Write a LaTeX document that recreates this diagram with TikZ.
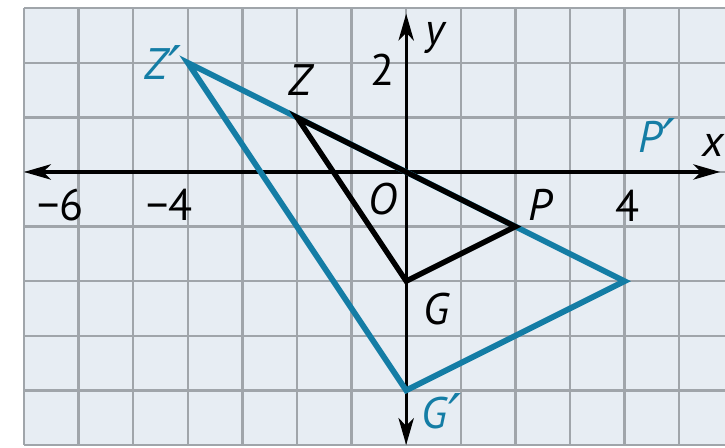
\documentclass[tikz,border=0pt]{standalone}
\usepackage{fontspec}
\setmainfont{PT Sans}
\newfontfamily\primefont{DejaVu Sans}
\usetikzlibrary{arrows.meta}
\definecolor{bgblue}{RGB}{231,237,243}
\definecolor{gridgray}{RGB}{160,165,170}
\definecolor{primeblue}{RGB}{20,125,165}
\newcommand{\prm}{\kern0.5pt\raisebox{-4pt}{\primefont\itshape\fontsize{30}{30}\selectfont ′}}
\tikzset{
  gridline/.style={draw=gridgray, line width=1.3pt},
  axisline/.style={draw=black, line width=1.6pt, {Stealth[length=14pt,width=8pt,inset=4pt]}-{Stealth[length=14pt,width=8pt,inset=4pt]}},
  imgtri/.style={draw=primeblue, line width=3pt, line join=miter},
  pretri/.style={draw=black, line width=2.8pt, line join=miter},
  lab/.style={font=\fontsize{23}{27}\selectfont\itshape, inner sep=0pt},
  num/.style={font=\fontsize{23}{27}\selectfont, inner sep=0pt},
}
\begin{document}
\begin{tikzpicture}
\useasboundingbox (-7.44,-5.04) rectangle (5.84,3.15);
\fill[bgblue] (-7,-5) rectangle (5.84,3);
\foreach \x in {-7,...,5} \draw[gridline] (\x,-5) -- (\x,3);
\foreach \y in {-5,...,3} \draw[gridline] (-7,\y) -- (5.84,\y);
% axes
\coordinate (xl) at (-7.0,0);
\coordinate (xr) at (5.75,0);
\coordinate (yt) at (0,2.9);
\coordinate (yb) at (0,-5.0);
\draw[axisline] (xl) -- (xr);
\draw[axisline] (yb) -- (yt);
% vertices
\coordinate (Zp) at (-4,2);
\coordinate (Pp) at (4,-2);
\coordinate (Gp) at (0,-4);
\coordinate (Z) at (-2,1);
\coordinate (O) at (0,0);
\coordinate (P) at (2,-1);
\coordinate (G) at (0,-2);
\draw[imgtri] (Zp) -- (Pp) -- (Gp) -- cycle;
\draw[pretri] (Z) -- (P) -- (G) -- cycle;
% labels
\node[num] (n6) at (-6.33,-0.6) {−6};
\node[num] (n4) at (-4.33,-0.6) {−4};
\node[num] (p4) at (4.05,-0.62) {4};
\node[num] (p2) at (-0.44,1.87) {2};
\node[lab] (ly) at (0.53,2.45) {y};
\node[lab] (lx) at (5.62,0.48) {x};
\node[lab] (lO) at (-0.42,-0.5) {O};
\node[lab] (lZ) at (-1.94,1.68) {Z};
\node[lab, text=primeblue] (lZp) at (-4.45,1.93) {Z\prm};
\node[lab] (lP) at (2.45,-0.6) {P};
\node[lab, text=primeblue] (lPp) at (4.6,0.6) {P\prm};
\node[lab] (lG) at (0.55,-2.52) {G};
\node[lab, text=primeblue] (lGp) at (0.65,-4.45) {G\prm};
\end{tikzpicture}
\end{document}
